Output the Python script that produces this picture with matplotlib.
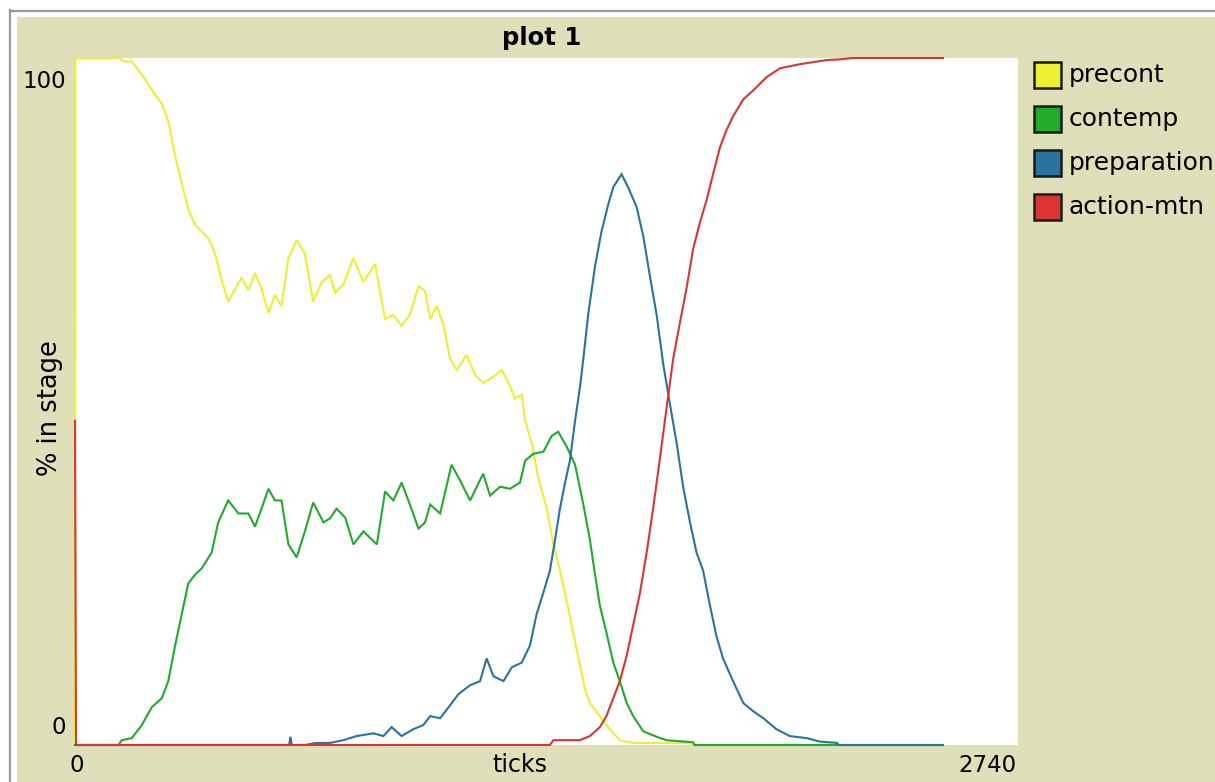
import matplotlib
matplotlib.use("Agg")
import matplotlib.pyplot as plt
from matplotlib.patches import Rectangle
from matplotlib.lines import Line2D

# NetLogo plot "plot 1": % of agents in each stage over ticks
series_names = ["precont", "contemp", "preparation", "action-mtn"]
series_colors = ["#EEEE33", "#22AA2C", "#2A72A0", "#DA3530"]

precont_ticks = [0, 1, 126, 145, 165, 194, 232, 252, 271, 291, 310, 329, 349, 387, 407,
                 426, 445, 465, 484, 504, 523, 542, 562, 581, 600, 620, 644, 668, 692, 717,
                 741, 756, 780, 809, 838, 872, 901, 925, 949, 973, 998, 1017, 1032, 1051,
                 1070, 1090, 1109, 1138, 1162, 1186, 1216, 1240, 1264, 1278, 1298, 1308,
                 1327, 1346, 1371, 1390, 1409, 1429, 1458, 1482, 1496, 1525, 1554, 1583,
                 1620, 1700, 1787, 1795, 2522]
precont_vals = [0, 100, 100, 99.5, 99.5, 97.6, 94.7, 93.4, 90.8, 85.7, 81.8, 78, 75.7, 73.8,
                71.5, 67.7, 64.5, 66.4, 68, 66.2, 68.7, 66.4, 62.9, 65.5, 63.9, 70.9, 73.5,
                71.5, 64.5, 67.4, 68.4, 65.8, 67.1, 70.9, 67.4, 70, 62, 62.6, 61, 62.6, 66.8,
                66.1, 62, 63.9, 61.3, 56.2, 54.6, 56.8, 53.9, 52.7, 53.6, 54.6, 52.3, 50.4,
                51, 47.2, 44, 38.9, 34.4, 29.3, 25.4, 20.9, 13.8, 8.1, 6.1, 4.2, 2.3, 0.7,
                0.3, 0.3, 0.3, 0, 0]

contemp_ticks = [0, 126, 136, 165, 194, 223, 252, 271, 291, 310, 329, 349, 368, 397, 416,
                 445, 475, 504, 523, 542, 562, 581, 600, 620, 644, 668, 692, 722, 741, 760,
                 785, 809, 838, 877, 901, 925, 949, 973, 998, 1017, 1032, 1061, 1094, 1119,
                 1148, 1186, 1206, 1235, 1264, 1293, 1308, 1332, 1361, 1385, 1404, 1429,
                 1453, 1477, 1496, 1511, 1525, 1544, 1564, 1583, 1603, 1622, 1651, 1690,
                 1719, 1796, 1800, 2522]
contemp_vals = [0, 0, 0.7, 1.0, 2.9, 5.5, 6.8, 9.3, 14.5, 19, 23.5, 24.8, 25.7, 28, 32.4,
                35.6, 33.7, 33.7, 31.8, 34.4, 37.3, 35.6, 35.6, 29.2, 27.3, 31.1, 35.3, 32.4,
                33, 34.4, 33.1, 29.2, 31.1, 29.2, 36.9, 35.6, 38.2, 35, 31.5, 32.4, 35, 33.7,
                40.8, 38.5, 35.6, 39.5, 36.3, 37.6, 37.3, 38.2, 41.4, 42.4, 42.7, 45, 45.6,
                43.4, 40.8, 35, 29.9, 24.8, 20.3, 16.4, 12, 9.3, 6.1, 4.2, 2, 1.2, 0.7, 0.4,
                0, 0]

preparation_ticks = [0, 622, 626, 630, 668, 700, 741, 780, 818, 867, 896, 920, 949, 983,
                     1012, 1032, 1061, 1090, 1114, 1148, 1177, 1196, 1216, 1245, 1269, 1298,
                     1322, 1341, 1361, 1380, 1395, 1409, 1424, 1438, 1453, 1467, 1477, 1491,
                     1511, 1530, 1549, 1564, 1588, 1607, 1632, 1651, 1670, 1690, 1709, 1728,
                     1748, 1767, 1787, 1806, 1825, 1845, 1864, 1883, 1912, 1942, 1971, 2000,
                     2038, 2077, 2126, 2164, 2214, 2220, 2522]
preparation_vals = [0, 0, 1.2, 0, 0, 0.3, 0.3, 0.7, 1.3, 1.7, 1.3, 2.6, 1.3, 2.3, 2.9, 4.2,
                    3.9, 5.8, 7.4, 8.7, 9.3, 12.6, 10, 9.3, 11.3, 12, 14.5, 19, 22.2, 25.4,
                    29.9, 34.4, 38.2, 41.4, 47.2, 52, 56.2, 62.6, 69.7, 74.8, 78.6, 81.2,
                    83.1, 81.2, 78.3, 74.1, 68.4, 62.6, 55.5, 49.8, 44, 37.6, 32.4, 28, 25.4,
                    20.3, 15.8, 12.6, 9.3, 6.1, 4.9, 3.9, 2.3, 1.3, 1.0, 0.5, 0.3, 0, 0]

action_ticks = [0, 3, 1380, 1390, 1467, 1496, 1525, 1544, 1564, 1583, 1603, 1622, 1641,
                1661, 1680, 1699, 1719, 1738, 1757, 1777, 1796, 1816, 1835, 1854, 1874,
                1893, 1912, 1942, 1971, 2009, 2048, 2106, 2184, 2222, 2260, 2522]
action_vals = [47.2, 0, 0, 0.7, 0.7, 1.3, 2.6, 4.2, 6.8, 9.3, 13, 17.5, 22, 28, 34.5, 41.5,
               49.1, 56.2, 61.3, 66.5, 72.2, 76.1, 79.3, 83.1, 87, 89.5, 91.5, 94, 95.3,
               97.2, 98.5, 99.1, 99.7, 99.8, 100, 100]

x_max = 2740
y_max = 100
beige = "#DFDFB9"

W, H = 1215, 782
fig = plt.figure(figsize=(W / 100, H / 100), dpi=100, facecolor="white")
plt.rcParams["font.family"] = ["DejaVu Sans"]

# widget frame
fig.patches.append(Rectangle((17 / W, 0), 1, (H - 17) / H, transform=fig.transFigure,
                             facecolor=beige, edgecolor="none", zorder=-10))
fig.lines.append(Line2D([10 / W, 1], [1 - 10.5 / H, 1 - 10.5 / H], transform=fig.transFigure,
                        color="#9A9A9A", lw=1.6, zorder=-10))
fig.lines.append(Line2D([10.5 / W, 10.5 / W], [0, 1 - 10 / H], transform=fig.transFigure,
                        color="#9A9A9A", lw=1.6, zorder=-10))

ax = fig.add_axes([75 / W, (H - 745) / H, (1018 - 75) / W, (745 - 58) / H], zorder=1)
ax.set_facecolor("white")
ax.set_xlim(0, x_max)
ax.set_ylim(0, y_max)
for s in ax.spines.values():
    s.set_visible(False)
ax.set_xticks([])
ax.set_yticks([])

all_ticks = [precont_ticks, contemp_ticks, preparation_ticks, action_ticks]
all_vals = [precont_vals, contemp_vals, preparation_vals, action_vals]
for t, v, c in zip(all_ticks, all_vals, series_colors):
    ax.plot(t, v, color=c, lw=1.5, clip_on=False, solid_joinstyle="miter")

fs = 17
fig.text(542 / W, 1 - 38 / H, "plot 1", ha="center", va="center", fontsize=17.5,
         fontweight="bold")
fig.text(66 / W, 1 - 82 / H, str(y_max), ha="right", va="center", fontsize=16.5)
fig.text(66 / W, 1 - 727 / H, "0", ha="right", va="center", fontsize=16.5)
fig.text(77 / W, 1 - 765 / H, "0", ha="center", va="center", fontsize=16.5)
fig.text(1016 / W, 1 - 765 / H, str(x_max), ha="right", va="center", fontsize=16.5)
fig.text(520 / W, 1 - 765 / H, "ticks", ha="center", va="center", fontsize=fs)
fig.text(50 / W, 1 - 408 / H, "% in stage", ha="center", va="center", fontsize=18.5,
         rotation=90)

# legend
for i, (name, c) in enumerate(zip(series_names, series_colors)):
    yc = 75 + i * 44
    fig.patches.append(Rectangle((1034 / W, 1 - (yc + 13) / H), 27 / W, 26 / H,
                                 transform=fig.transFigure, facecolor=c,
                                 edgecolor="#1A1A1A", lw=1.8))
    fig.text(1069 / W, 1 - yc / H, name, ha="left", va="center", fontsize=18)

fig.savefig("out.png", dpi=100, facecolor=fig.get_facecolor())
